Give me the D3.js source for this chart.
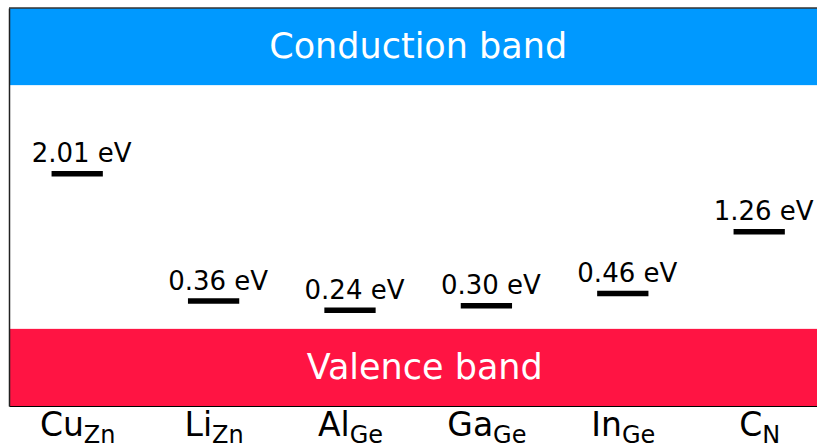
<!DOCTYPE html>
<html>
<head>
<meta charset="utf-8">
<script src="https://cdn.jsdelivr.net/npm/d3@7"></script>
<style>
  html, body { margin: 0; padding: 0; background: #fff; }
  svg { display: block; font-family: "DejaVu Sans", sans-serif; }
</style>
</head>
<body>
<svg id="chart" width="817" height="447"></svg>
<script>
// Defect species (host symbol / site symbol) and their level energies above the VBM (eV)
const defects   = ["Cu", "Li", "Al", "Ga", "In", "C"];
const sites     = ["Zn", "Zn", "Ge", "Ge", "Ge", "N"];
const levels    = [2.01, 0.36, 0.24, 0.30, 0.46, 1.26];
const levelText = ["2.01 eV", "0.36 eV", "0.24 eV", "0.30 eV", "0.46 eV", "1.26 eV"];

// Band edges (eV) and the energy window shown
const vbm = 0.0;
const cbm = 3.16;
const eMin = -1.0;
const eMax = 4.16;

const svg = d3.select("#chart");
const W = 817;
const padLeft = 9, padTop = 8, axisBottomY = 406;
const step = 136.4;

const x = d3.scaleLinear().domain([-0.5, 5.5]).range([padLeft, padLeft + 6 * step]);
const y = d3.scaleLinear().domain([eMin, eMax]).range([axisBottomY, padTop]);

const plot = svg.append("g");

// Conduction band
plot.append("rect")
  .attr("x", x(-0.5)).attr("width", x(5.5) - x(-0.5))
  .attr("y", y(eMax)).attr("height", y(cbm) - y(eMax))
  .attr("fill", "#0099ff");

// Valence band
plot.append("rect")
  .attr("x", x(-0.5)).attr("width", x(5.5) - x(-0.5))
  .attr("y", y(vbm)).attr("height", y(eMin) - y(vbm))
  .attr("fill", "#ff1443");

plot.append("text")
  .attr("x", x(2.5)).attr("y", y((cbm + eMax) / 2) + 11)
  .attr("text-anchor", "middle")
  .attr("fill", "#fff").attr("font-size", 35)
  .text("Conduction band");

plot.append("text")
  .attr("x", x(2.548)).attr("y", y((vbm + eMin) / 2) + 11.5)
  .attr("text-anchor", "middle")
  .attr("fill", "#fff").attr("font-size", 35)
  .text("Valence band");

// Defect levels
const halfW = 0.188;
plot.selectAll("line.level")
  .data(levels)
  .join("line")
  .attr("class", "level")
  .attr("x1", (d, i) => x(i - halfW))
  .attr("x2", (d, i) => x(i + halfW))
  .attr("y1", d => y(d))
  .attr("y2", d => y(d))
  .attr("stroke", "#000")
  .attr("stroke-width", 5.5);

plot.selectAll("text.lvl")
  .data(levels)
  .join("text")
  .attr("class", "lvl")
  .attr("x", (d, i) => x(i + 0.033))
  .attr("y", d => y(d + 0.16) + 1)
  .attr("text-anchor", "middle")
  .attr("font-size", 26)
  .attr("fill", "#000")
  .text((d, i) => levelText[i]);

// Axes: spines only, with species labels along the bottom
const xAxis = svg.append("g")
  .attr("transform", `translate(0,${axisBottomY})`)
  .call(d3.axisBottom(x).tickValues(d3.range(defects.length)).tickSize(0).tickSizeOuter(0).tickFormat(() => ""));
xAxis.select(".domain").attr("stroke", "#000").attr("stroke-width", 1.2);

xAxis.selectAll(".tick text").each(function (d) {
  const t = d3.select(this);
  t.attr("y", 30).attr("dy", null)
    .attr("font-size", 33).attr("font-family", "DejaVu Sans").attr("fill", "#000");
  t.text(null);
  t.append("tspan").text(defects[d]);
  t.append("tspan").attr("font-size", 24).attr("dy", 6.5).text(sites[d]);
});

const yAxis = svg.append("g")
  .attr("transform", `translate(${padLeft},0)`)
  .call(d3.axisLeft(y).tickValues([]).tickSizeOuter(0));
yAxis.select(".domain").attr("stroke", "#222").attr("stroke-width", 1.5);

svg.append("line")
  .attr("x1", padLeft).attr("x2", W)
  .attr("y1", padTop).attr("y2", padTop)
  .attr("stroke", "#333").attr("stroke-width", 1.5);
</script>
</body>
</html>
